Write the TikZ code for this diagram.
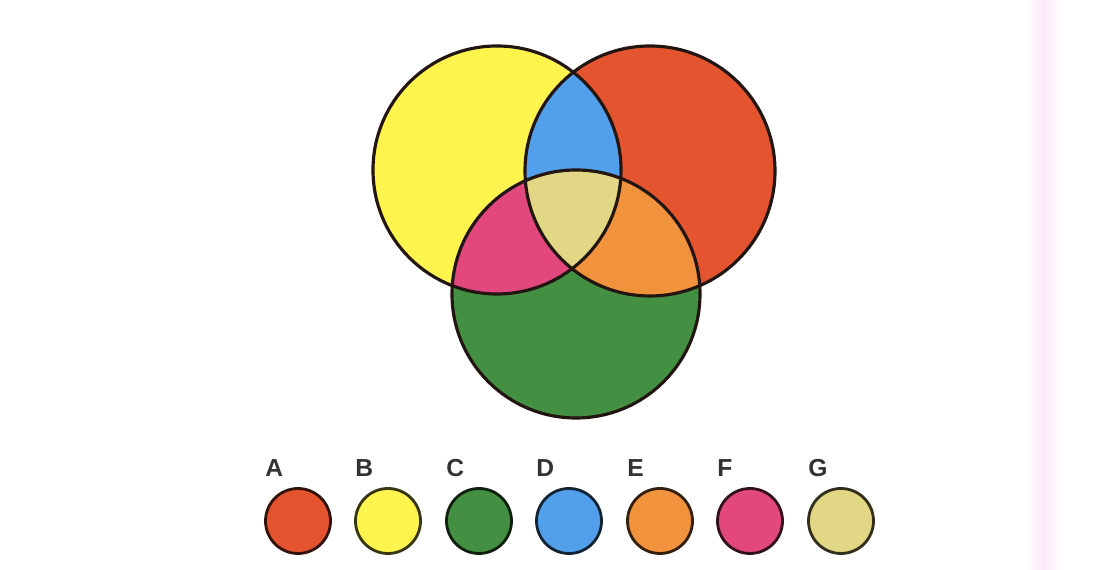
\documentclass[tikz,border=0pt]{standalone}
\usepackage{fontspec}
\setmainfont{Liberation Sans}
\usetikzlibrary{positioning}

\definecolor{setA}{RGB}{228,84,46}
\definecolor{setB}{RGB}{253,245,78}
\definecolor{setC}{RGB}{68,144,66}
\definecolor{setD}{RGB}{82,160,236}
\definecolor{setE}{RGB}{241,146,60}
\definecolor{setF}{RGB}{226,72,126}
\definecolor{setG}{RGB}{226,215,132}
\definecolor{ink}{RGB}{35,22,18}
\definecolor{keytext}{RGB}{50,50,50}
\definecolor{strip}{RGB}{250,232,248}

\begin{document}
\begin{tikzpicture}[
  x=0.02cm, y=0.02cm,
  font=\fontsize{14}{16}\selectfont\bfseries,
  set/.style={line width=1.8pt, draw=ink},
  dot/.style={circle, fill=#1, draw=#1!22!black, line width=1.6pt,
              minimum size=1.3cm, inner sep=0pt},
  key/.style={anchor=base west, text=keytext, inner sep=0pt},
]
  \useasboundingbox (0,0) rectangle (1100,570);

  % faint edge of the scanned page
  \shade[left color=white, right color=white, middle color=strip]
    (1026,0) rectangle (1062,570);

  % the three sets
  \coordinate (cy) at (497,400);
  \coordinate (cr) at (650,399);
  \coordinate (cg) at (576,276);
  \fill[setB] (cy) circle (124);
  \fill[setA] (cr) circle (125);
  \fill[setC] (cg) circle (124);

  % overlaps
  \begin{scope}
    \clip (cr) circle (125);
    \fill[setE] (cg) circle (124);
  \end{scope}
  \begin{scope}
    \clip (cy) circle (124);
    \fill[setD] (cr) circle (125);
    \fill[setF] (cg) circle (124);
    \clip (cr) circle (125);
    \fill[setG] (cg) circle (124);
  \end{scope}

  \draw[set] (cy) circle (124);
  \draw[set] (cr) circle (125);
  \draw[set] (cg) circle (124);

  % colour key
  \node[dot=setA] (dotA) at (298,49) {};
  \node[dot=setB] (dotB) at (388,49) {};
  \node[dot=setC] (dotC) at (479,49) {};
  \node[dot=setD] (dotD) at (569,49) {};
  \node[dot=setE] (dotE) at (660,49) {};
  \node[dot=setF] (dotF) at (750,49) {};
  \node[dot=setG] (dotG) at (841,49) {};

  \node[key] (keyA) at (265,93) {A};
  \node[key] (keyB) at (355,93) {B};
  \node[key] (keyC) at (446,93) {C};
  \node[key] (keyD) at (536,93) {D};
  \node[key] (keyE) at (627,93) {E};
  \node[key] (keyF) at (717,93) {F};
  \node[key] (keyG) at (808,93) {G};
\end{tikzpicture}
\end{document}
